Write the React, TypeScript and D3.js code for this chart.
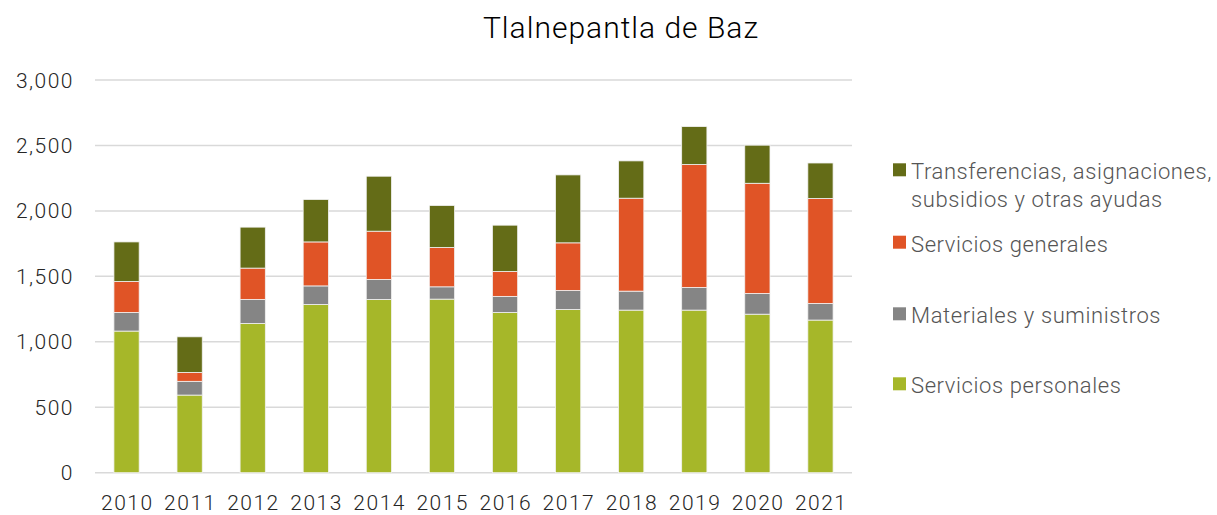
import { useEffect, useRef } from "react";
import * as d3 from "d3";

const years = ["2010", "2011", "2012", "2013", "2014", "2015", "2016", "2017", "2018", "2019", "2020", "2021"];

const serviciosPersonales = [1082, 593, 1140, 1285, 1324, 1326, 1224, 1247, 1242, 1242, 1211, 1166];
const materialesSuministros = [142, 105, 184, 142, 152, 94, 123, 145, 145, 173, 158, 127];
const serviciosGenerales = [237, 68, 239, 336, 369, 301, 190, 364, 710, 939, 842, 802];
const transferencias = [302, 272, 313, 324, 420, 320, 354, 519, 285, 290, 291, 271];

const seriesNames = [
  "Servicios personales",
  "Materiales y suministros",
  "Servicios generales",
  "Transferencias, asignaciones, subsidios y otras ayudas",
];
const seriesColors = ["#a6b729", "#858585", "#e05426", "#646c17"];

const yTicks = [0, 500, 1000, 1500, 2000, 2500, 3000];

const W = 1217;
const H = 515;
const FONT = "Roboto, 'Liberation Sans', Arial, sans-serif";

export default function App() {
  const svgRef = useRef<SVGSVGElement>(null);

  useEffect(() => {
    document.body.style.margin = "0";
    const svg = d3.select(svgRef.current!);
    svg.selectAll("*").remove();

    const x = d3.scaleBand<string>().domain(years).range([95, 852]).paddingInner(0.6).paddingOuter(0.3);
    const y = d3.scaleLinear().domain([0, 3000]).range([472.7, 80]);

    const rows = years.map((yr, i) => ({
      year: yr,
      s0: serviciosPersonales[i],
      s1: materialesSuministros[i],
      s2: serviciosGenerales[i],
      s3: transferencias[i],
    }));
    const stack = d3.stack<any>().keys(["s0", "s1", "s2", "s3"]);
    const layers = stack(rows);

    // gridlines
    svg.append("g")
      .selectAll("line")
      .data(yTicks)
      .join("line")
      .attr("x1", 95).attr("x2", 852)
      .attr("y1", (d) => y(d)).attr("y2", (d) => y(d))
      .attr("stroke", "#d9d9d9").attr("stroke-width", 1.5);

    // y labels
    svg.append("g")
      .selectAll("text")
      .data(yTicks)
      .join("text")
      .attr("x", 74).attr("y", (d) => y(d) + 7.5)
      .attr("text-anchor", "end")
      .attr("font-family", FONT).attr("font-weight", 300).attr("font-size", 21)
      .attr("letter-spacing", 1.5)
      .attr("fill", "#262626")
      .text((d) => d3.format(",")(d));

    // bars
    svg.append("g")
      .selectAll("g")
      .data(layers)
      .join("g")
      .attr("fill", (_d, i) => seriesColors[i])
      .selectAll("rect")
      .data((d) => d)
      .join("rect")
      .attr("x", (d) => x(d.data.year)!)
      .attr("width", x.bandwidth())
      .attr("y", (d) => y(d[1]))
      .attr("height", (d) => y(d[0]) - y(d[1]))
      .attr("stroke", "#f2f2f2").attr("stroke-width", 0.8);

    // x labels
    svg.append("g")
      .selectAll("text")
      .data(years)
      .join("text")
      .attr("x", (d) => x(d)! + x.bandwidth() / 2 + 0.75)
      .attr("y", 510)
      .attr("text-anchor", "middle")
      .attr("font-family", FONT).attr("font-weight", 300).attr("font-size", 21)
      .attr("letter-spacing", 1.5)
      .attr("fill", "#262626")
      .text((d) => d);

    // title
    svg.append("text")
      .attr("x", 621).attr("y", 38)
      .attr("text-anchor", "middle")
      .attr("font-family", FONT).attr("font-weight", 300).attr("font-size", 30)
      .attr("letter-spacing", 1)
      .attr("fill", "#000")
      .text("Tlalnepantla de Baz");

    // legend (top to bottom: reverse order of stack)
    const legendItems = [
      { i: 3, lines: ["Transferencias, asignaciones,", "subsidios y otras ayudas"], base: 179.3 },
      { i: 2, lines: [seriesNames[2]], base: 251.7 },
      { i: 1, lines: [seriesNames[1]], base: 323.3 },
      { i: 0, lines: [seriesNames[0]], base: 393.3 },
    ];
    const lg = svg.append("g");
    legendItems.forEach((it) => {
      lg.append("rect")
        .attr("x", 893).attr("y", it.base - 16)
        .attr("width", 13).attr("height", 13)
        .attr("fill", seriesColors[it.i]);
      it.lines.forEach((ln, k) => {
        lg.append("text")
          .attr("x", 911).attr("y", it.base + k * 27.4)
          .attr("font-family", FONT).attr("font-weight", 300).attr("font-size", 22)
          .attr("letter-spacing", 0.6)
          .attr("fill", "#555")
          .text(ln);
      });
    });
  }, []);

  return <svg ref={svgRef} width={W} height={H} style={{ display: "block", background: "#fff" }} />;
}
